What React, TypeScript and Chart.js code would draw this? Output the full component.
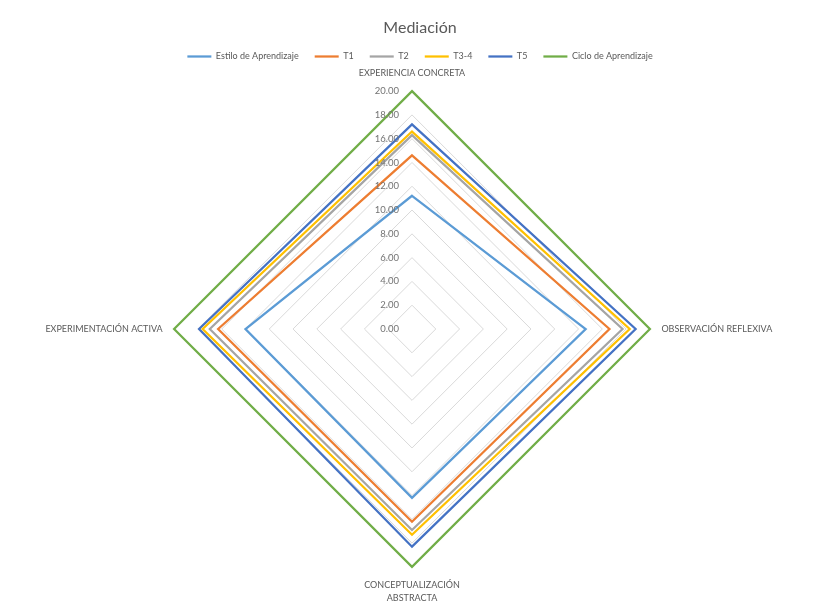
import React, { useEffect, useRef } from "react";
import { Chart, registerables } from "chart.js";

Chart.register(...registerables);

const categories = [
  "EXPERIENCIA CONCRETA",
  "OBSERVACIÓN REFLEXIVA",
  "CONCEPTUALIZACIÓN ABSTRACTA",
  "EXPERIMENTACIÓN ACTIVA",
];

const estilo = [11.2, 14.6, 14.2, 14.0];
const t1 = [14.6, 16.6, 16.2, 16.3];
const t2 = [16.3, 17.7, 16.9, 17.0];
const t34 = [16.6, 18.3, 17.3, 17.6];
const t5 = [17.2, 18.8, 18.3, 17.9];
const ciclo = [20, 20, 20, 20];

const seriesNames = ["Estilo de Aprendizaje", "T1", "T2", "T3-4", "T5", "Ciclo de Aprendizaje"];
const seriesColors = ["#5B9BD5", "#ED7D31", "#A5A5A5", "#FFC000", "#4472C4", "#70AD47"];

const FONT = "Lato, 'Open Sans', sans-serif";
const LEGEND_TRIM = 17.5;

// display labels: the top label gets an empty first line so that top and bottom
// labels take the same room; the bottom label wraps onto two lines.
const displayLabels = categories.map((c, i) => {
  if (i === 0) return ["", c];
  if (i === 2) return c.split(" ");
  return c;
});

const tickLabelPlugin = {
  id: "tickLabelsLeft",
  afterDatasetsDraw(chart: any) {
    const scale = chart.scales.r;
    const ctx = chart.ctx;
    ctx.save();
    ctx.font = `9.5px ${FONT}`;
    ctx.fillStyle = "#737373";
    ctx.textAlign = "right";
    ctx.textBaseline = "middle";
    scale.ticks.forEach((t: any) => {
      const d = scale.getDistanceFromCenterForValue(t.value);
      ctx.fillText(t.value.toFixed(2), scale.xCenter - 13, scale.yCenter - d);
    });
    ctx.restore();
  },
};

function shiftDraw(box: any, dx: number, extraBottom: number) {
  const orig = box.draw;
  box.draw = function (...args: any[]) {
    const ctx = this.ctx;
    ctx.save();
    ctx.translate(dx, 0);
    this.bottom += extraBottom;
    this.right += dx;
    orig.apply(this, args);
    this.bottom -= extraBottom;
    this.right -= dx;
    ctx.restore();
  };
}

const legendFitPlugin = {
  id: "legendFit",
  beforeUpdate(chart: any) {
    const legend = chart.legend;
    if (legend && !legend.__patched) {
      const orig = legend.fit;
      legend.fit = function () {
        orig.call(this);
        this.height = Math.max(0, this.height - LEGEND_TRIM);
      };
      shiftDraw(legend, 6, LEGEND_TRIM + 4);
      legend.__patched = true;
    }
    const title = chart.titleBlock;
    if (title && !title.__patched) {
      shiftDraw(title, 6, 0);
      title.__patched = true;
    }
  },
};

export default function App() {
  const ref = useRef<HTMLCanvasElement>(null);
  useEffect(() => {
    const data = [estilo, t1, t2, t34, t5, ciclo];
    const chart = new Chart(ref.current!, {
      type: "radar",
      data: {
        labels: displayLabels as any,
        datasets: data.map((d, i) => ({
          label: seriesNames[i],
          data: d,
          borderColor: seriesColors[i],
          backgroundColor: seriesColors[i],
          borderWidth: 2.25,
          pointRadius: 0,
          fill: false,
          tension: 0,
        })),
      },
      options: {
        animation: false,
        responsive: false,
        maintainAspectRatio: false,
        layout: { padding: { left: 10, right: 5, top: 0, bottom: 0 } },
        plugins: {
          title: {
            display: true,
            text: "Mediación",
            color: "#595959",
            font: { family: FONT, size: 16, weight: "normal", lineHeight: 1 },
            padding: { top: 20, bottom: 0 },
          },
          legend: {
            position: "top",
            labels: {
              usePointStyle: true,
              pointStyle: "line",
              pointStyleWidth: 24,
              boxHeight: 6,
              color: "#595959",
              font: { family: FONT, size: 9 },
              padding: 16,
            },
          },
          tooltip: { enabled: false },
        },
        scales: {
          r: {
            min: 0,
            max: 20,
            ticks: { stepSize: 2, display: false },
            grid: { color: "#D9D9D9", lineWidth: 1 },
            angleLines: { display: false },
            pointLabels: {
              color: "#595959",
              font: { family: FONT, size: 9, lineHeight: 1.45 },
              padding: 11.5,
            },
          },
        },
      },
      plugins: [tickLabelPlugin, legendFitPlugin],
    });
    return () => chart.destroy();
  }, []);
  return (
    <div style={{ position: "fixed", left: 0, top: 0, width: 817, height: 605, background: "#fff" }}>
      <canvas ref={ref} width={817} height={605} />
    </div>
  );
}
